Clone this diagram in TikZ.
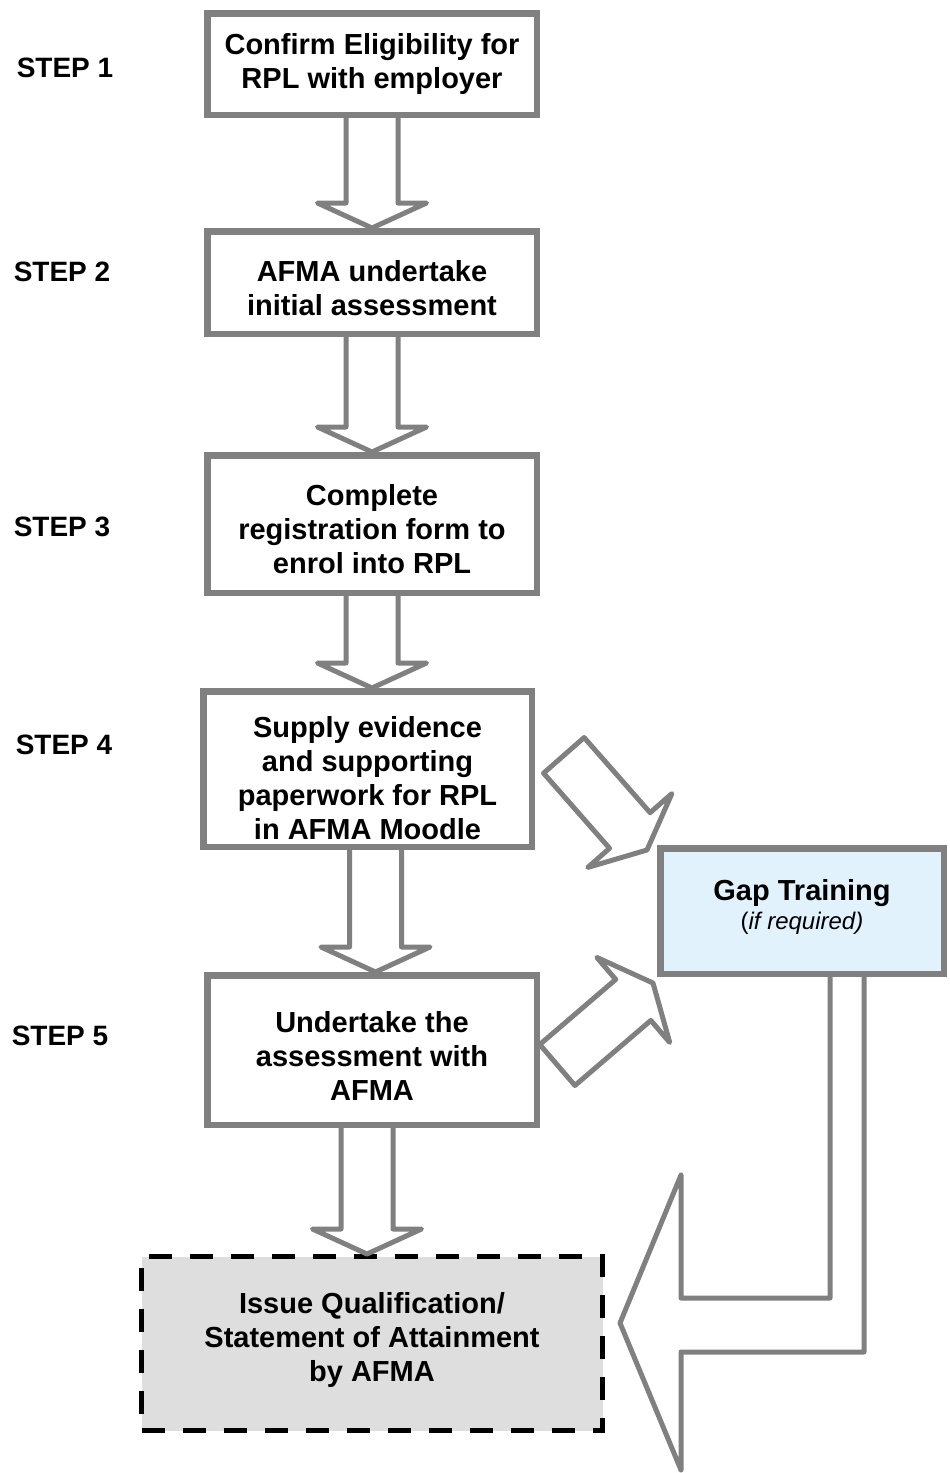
\documentclass[tikz,border=0pt]{standalone}
\usepackage{fontspec}
\setmainfont{Liberation Sans}
\usetikzlibrary{positioning, calc}

\definecolor{linegray}{HTML}{808080}
\definecolor{gapblue}{HTML}{E2F2FD}
\definecolor{issuegray}{HTML}{DEDEDE}

\newcommand{\downblock}[3][0pt]{%
  \draw[blockline] let \p1=([xshift=#1]#2.south), \p2=(#3.north) in
    (\x1-13pt,\y1) -- (\x1-13pt,\y2+12.5pt) -- (\x1-27.25pt,\y2+12.5pt)
    -- (\x1,\y2) -- (\x1+27.25pt,\y2+12.5pt) -- (\x1+13pt,\y2+12.5pt)
    -- (\x1+13pt,\y1);}
\newcommand{\diagblock}[2]{%
  \draw[blockline, shift={#1}, rotate=#2]
    (0,0) -- (-26,56) -- (-26,27) -- (-126,27) -- (-126,-27) -- (-26,-27) -- (-26,-56) -- cycle;}
\newcommand{\pushdown}[1]{\raisebox{#1}{\vphantom{l}}}
\newcommand{\pushup}[1]{\raisebox{-#1}{\vphantom{y}}}

\begin{document}
\begin{tikzpicture}[x=0.5pt, y=-0.5pt,
    box/.style={draw=linegray, line width=3.25pt, fill=white, align=center, inner sep=0pt,
      font=\fontsize{14.5pt}{17pt}\selectfont\bfseries, minimum width=164.75pt},
    steplabel/.style={font=\fontsize{14pt}{17pt}\selectfont\bfseries},
    blockline/.style={draw=linegray, line width=2.5pt, fill=white, line join=round}]
	\useasboundingbox (0,0) rectangle (949,1473);

	\node[box, minimum height=50.75pt] (1) at (372,64) {Confirm Eligibility for\\RPL with employer};
	\node[box, minimum height=51.25pt] (2) [below=55pt of 1] {\pushdown{6pt}AFMA undertake\\initial assessment};
	\node[box, minimum height=68.75pt] (3) [below=57.5pt of 2] {\pushdown{5pt}Complete\\registration form to\\enrol into RPL};
	\node[box, minimum height=77.75pt, minimum width=164.25pt] (4) [below=46pt of 3, xshift=-2.25pt] {\pushdown{9pt}Supply evidence\\and supporting\\paperwork for RPL\\in AFMA Moodle};
	\node[box, minimum height=74.75pt] (5) [below=61pt of 4, xshift=2.25pt] {\pushdown{6pt}Undertake the\\assessment with\\AFMA};
	\node[box, draw=black, line width=2.5pt, dash pattern=on 11.5pt off 9pt, fill=issuegray,
	  minimum width=230.5pt, minimum height=87pt] (issue) [below=63pt of 5] {Issue Qualification/\\Statement of Attainment\\by AFMA\pushup{4pt}};
	\node[box, fill=gapblue, minimum width=141.75pt, minimum height=62.75pt] (gap) at (802,911)
	  {Gap Training\\[-2.5pt]{\fontsize{12pt}{14pt}\selectfont\mdseries(\textit{if required)}\pushup{4pt}}};

	\node[steplabel] (s1) at (65,68) {STEP 1};
	\node[steplabel] (s2) at (62,272) {STEP 2};
	\node[steplabel] (s3) at (62,527) {STEP 3};
	\node[steplabel] (s4) at (64,745) {STEP 4};
	\node[steplabel] (s5) at (60,1036) {STEP 5};

	\downblock{1}{2}
	\downblock{2}{3}
	\downblock{3}{4}
	\downblock[4pt]{4}{5}
	\downblock[-2.5pt]{5}{issue}

	\diagblock{($(gap.north west)+(-10,5)$)}{-48.7}
	\diagblock{($(gap.south west)+(-4,6)$)}{40.6}

	\draw[blockline] ([xshift=14pt]gap.south) -- ++(0,321) -- ++(-149,0) -- ++(0,-123)
	  -- ++(-61,148) -- ++(61,147) -- ++(0,-118) -- ++(183,0) -- ++(0,-375);
\end{tikzpicture}
\end{document}
